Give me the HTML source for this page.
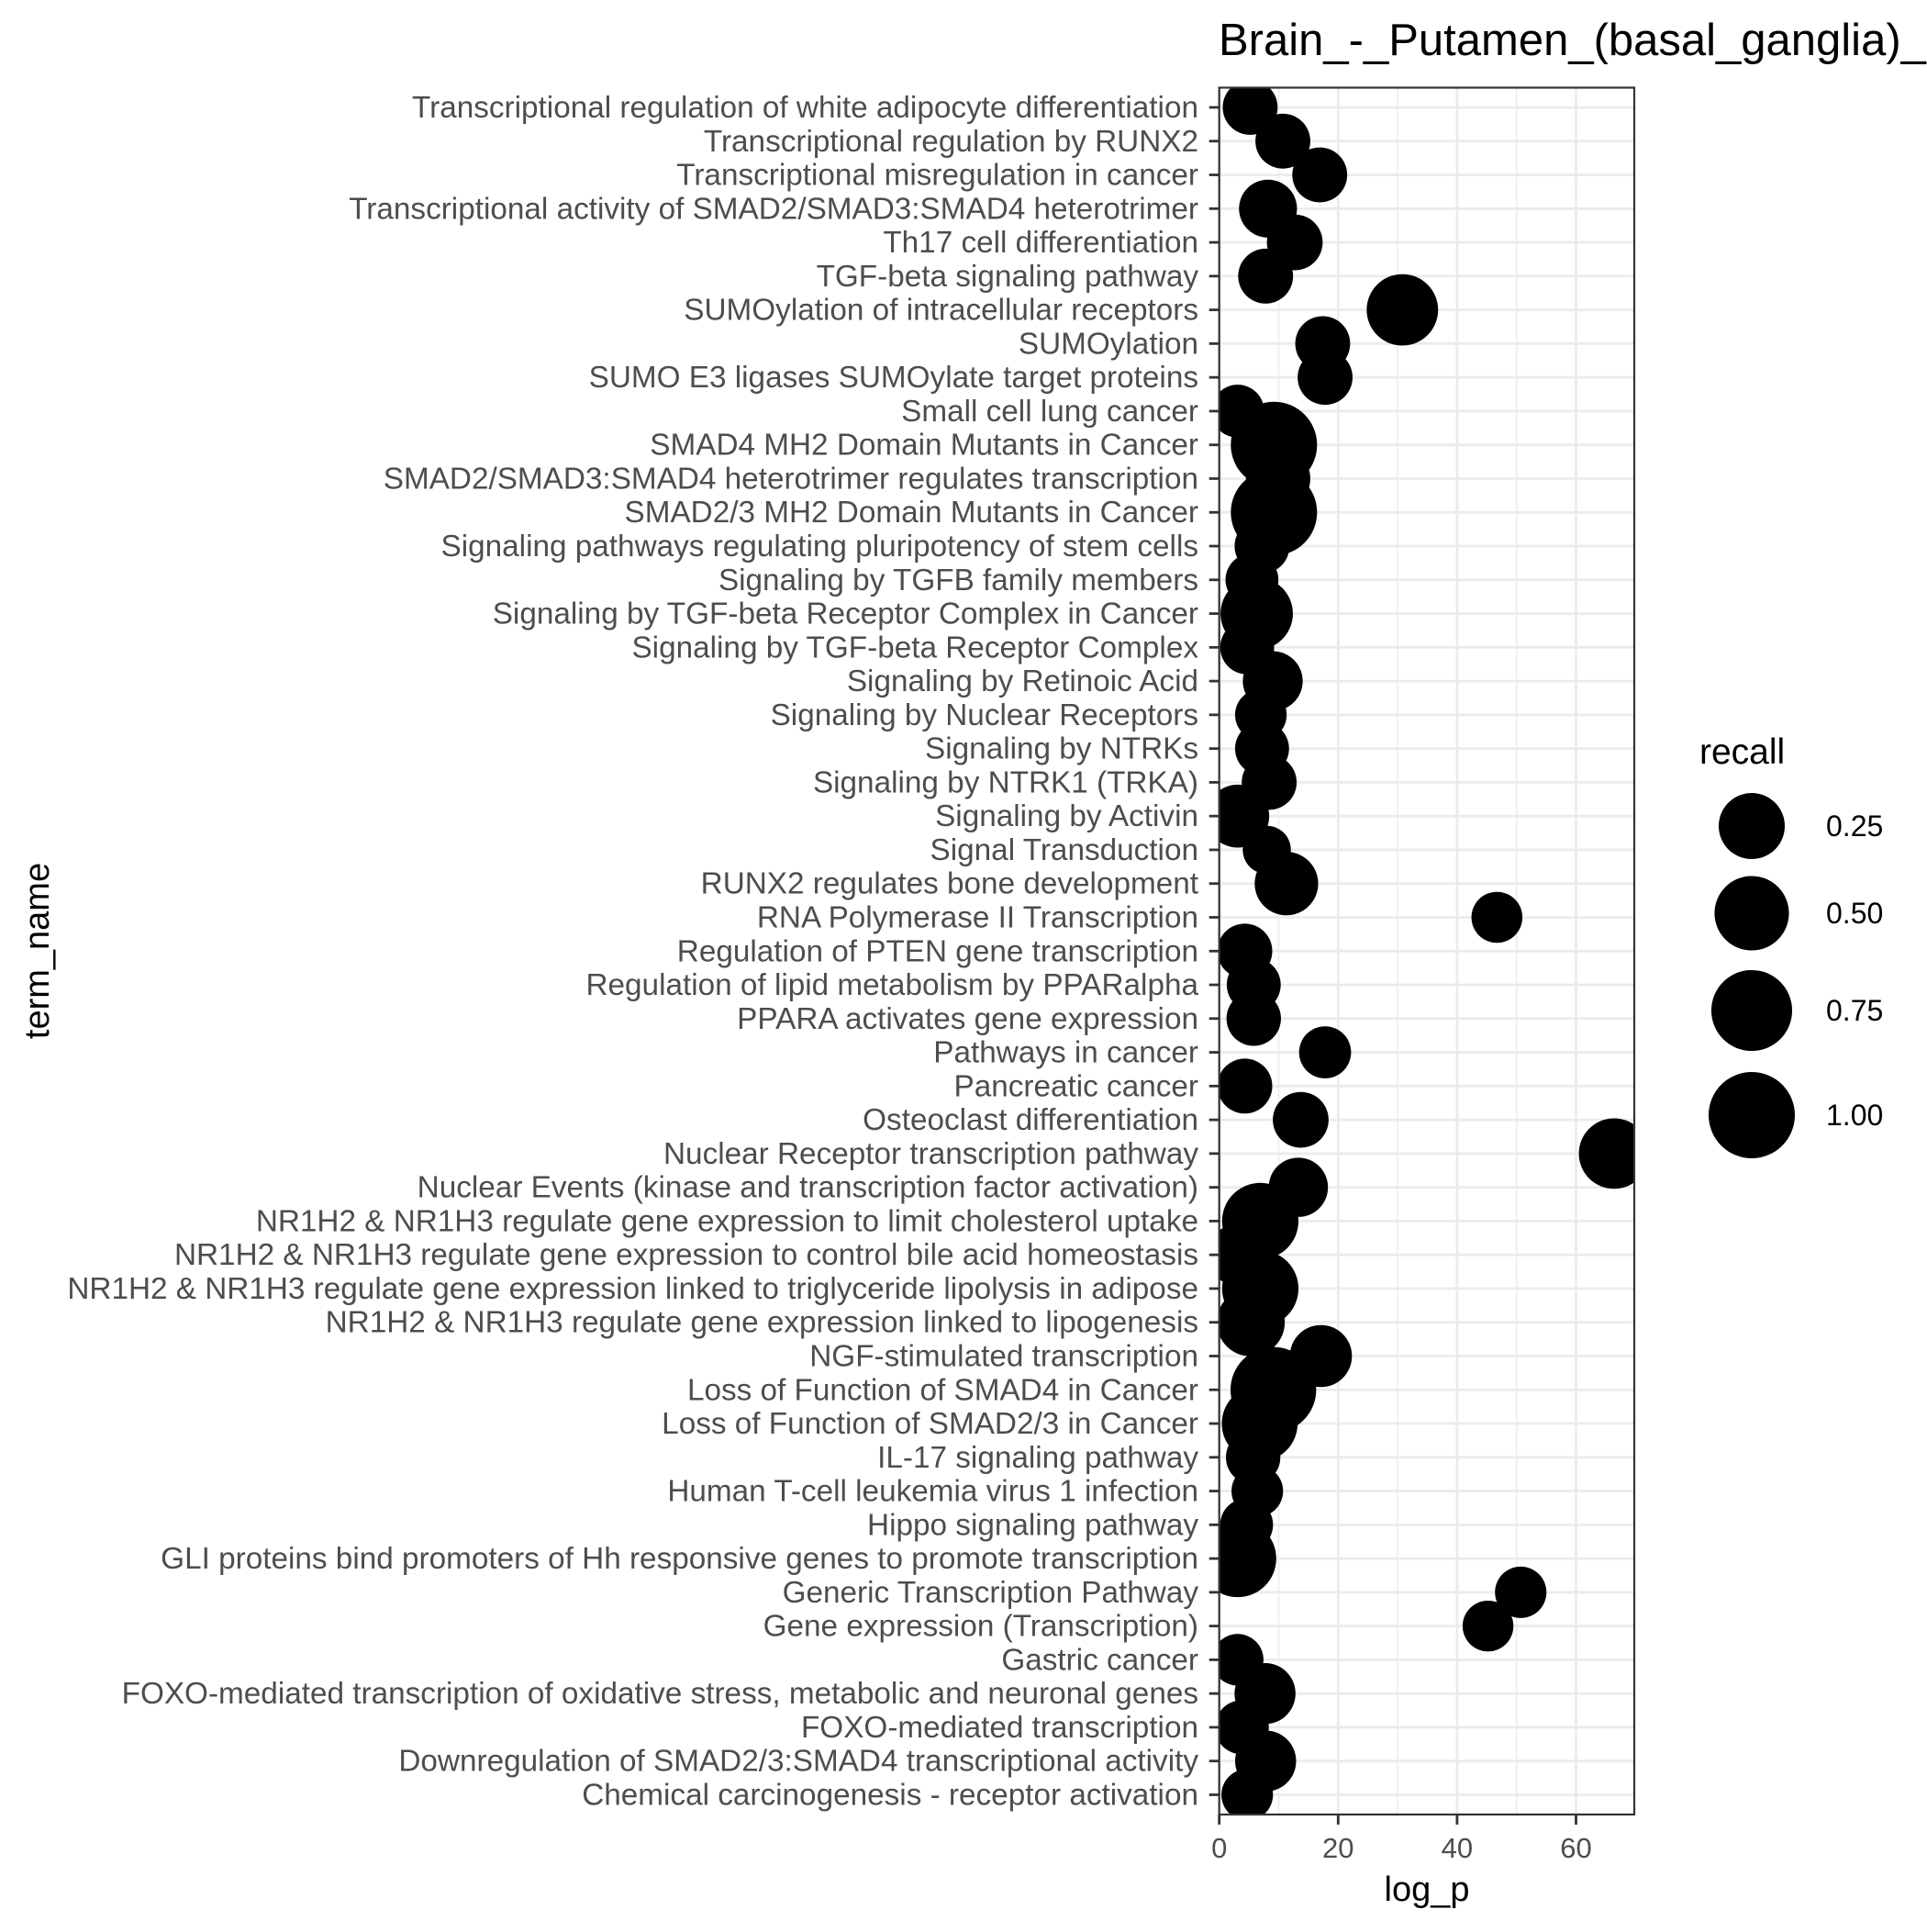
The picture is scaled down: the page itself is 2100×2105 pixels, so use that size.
<!DOCTYPE html>
<html><head><meta charset="utf-8"><style>
html,body{margin:0;padding:0;background:#fff;}
svg text{font-family:"Liberation Sans",Arial,sans-serif;}
</style></head><body>
<svg id="chart" width="2100" height="2100" viewBox="0 0 2100 2100" xmlns="http://www.w3.org/2000/svg">
<rect x="0" y="0" width="2100" height="2100" fill="#fff"/>
<text x="1328" y="60" font-size="49" fill="#000">Brain_-_Putamen_(basal_ganglia)_</text>
<text x="1555" y="2071" font-size="38" fill="#000" text-anchor="middle">log_p</text>
<text transform="translate(53,1036) rotate(-90)" font-size="38" fill="#000" text-anchor="middle">term_name</text>
<g id="grid"></g>
<g id="points"></g>
<g id="axes"></g>
<g id="legend"></g>
</svg>
<script>
const categories = [
"Transcriptional regulation of white adipocyte differentiation",
"Transcriptional regulation by RUNX2",
"Transcriptional misregulation in cancer",
"Transcriptional activity of SMAD2/SMAD3:SMAD4 heterotrimer",
"Th17 cell differentiation",
"TGF-beta signaling pathway",
"SUMOylation of intracellular receptors",
"SUMOylation",
"SUMO E3 ligases SUMOylate target proteins",
"Small cell lung cancer",
"SMAD4 MH2 Domain Mutants in Cancer",
"SMAD2/SMAD3:SMAD4 heterotrimer regulates transcription",
"SMAD2/3 MH2 Domain Mutants in Cancer",
"Signaling pathways regulating pluripotency of stem cells",
"Signaling by TGFB family members",
"Signaling by TGF-beta Receptor Complex in Cancer",
"Signaling by TGF-beta Receptor Complex",
"Signaling by Retinoic Acid",
"Signaling by Nuclear Receptors",
"Signaling by NTRKs",
"Signaling by NTRK1 (TRKA)",
"Signaling by Activin",
"Signal Transduction",
"RUNX2 regulates bone development",
"RNA Polymerase II Transcription",
"Regulation of PTEN gene transcription",
"Regulation of lipid metabolism by PPARalpha",
"PPARA activates gene expression",
"Pathways in cancer",
"Pancreatic cancer",
"Osteoclast differentiation",
"Nuclear Receptor transcription pathway",
"Nuclear Events (kinase and transcription factor activation)",
"NR1H2 & NR1H3 regulate gene expression to limit cholesterol uptake ",
"NR1H2 & NR1H3 regulate gene expression to control bile acid homeostasis",
"NR1H2 & NR1H3 regulate gene expression linked to triglyceride lipolysis in adipose",
"NR1H2 & NR1H3 regulate gene expression linked to lipogenesis",
"NGF-stimulated transcription",
"Loss of Function of SMAD4 in Cancer",
"Loss of Function of SMAD2/3 in Cancer",
"IL-17 signaling pathway",
"Human T-cell leukemia virus 1 infection",
"Hippo signaling pathway",
"GLI proteins bind promoters of Hh responsive genes to promote transcription",
"Generic Transcription Pathway",
"Gene expression (Transcription)",
"Gastric cancer",
"FOXO-mediated transcription of oxidative stress, metabolic and neuronal genes",
"FOXO-mediated transcription",
"Downregulation of SMAD2/3:SMAD4 transcriptional activity",
"Chemical carcinogenesis - receptor activation"
];
const logP = [5.2,10.7,16.9,8.2,12.7,7.8,30.8,17.4,17.8,3.1,9.2,9.9,9.2,7.2,5.5,6.3,4.7,9.0,7.0,7.2,8.4,3.1,8.0,11.3,46.7,4.3,5.8,5.8,17.8,4.3,13.7,66.4,13.3,6.9,3.5,6.9,5.3,17.1,9.1,6.8,5.7,6.4,4.6,3.1,50.7,45.2,3.1,7.7,3.8,7.8,4.7];
const recall = [0.05,0.05,0.05,0.09,0.06,0.05,0.40,0.05,0.05,0.03,1.0,0.21,1.0,0.05,0.03,0.43,0.04,0.12,0.02,0.04,0.05,0.18,0.003,0.19,0.016,0.05,0.04,0.045,0.023,0.05,0.06,0.37,0.11,0.57,0.2,0.57,0.3,0.16,0.97,0.55,0.045,0.02,0.03,0.6,0.019,0.015,0.02,0.14,0.04,0.14,0.02];
const xTicks = [0,20,40,60];
const xMinor = [10,30,50];
const legendBreaks = [0.25,0.5,0.75,1.0];
const legendLabels = ["0.25","0.50","0.75","1.00"];

const NS="http://www.w3.org/2000/svg";
const PL=1328.7, PR=1781, PT=95.5, PB=1977;
const ROW0=117, ROWN=1955.5;
function xScale(v){return PL + v*6.48;}
function yScale(i){return ROW0 + i*(ROWN-ROW0)/(categories.length-1);}
function rScale(v){return 25 + 22*Math.sqrt(Math.max(0,v));}
function mk(tag,attrs,parent){const e=document.createElementNS(NS,tag);for(const k in attrs)e.setAttribute(k,attrs[k]);parent.appendChild(e);return e;}

const svg=document.getElementById('chart');
const defs=mk('defs',{},svg);
const cp=mk('clipPath',{id:'pclip'},defs);
mk('rect',{x:PL,y:PT,width:PR-PL,height:PB-PT},cp);

const grid=document.getElementById('grid');
xMinor.forEach(v=>{
  const l=mk('line',{x1:xScale(v),x2:xScale(v),y1:PT,y2:PB,stroke:'#ebebeb','stroke-width':1.4},grid);
  
  
});
xTicks.forEach(v=>{
  const l=mk('line',{x1:xScale(v),x2:xScale(v),y1:PT,y2:PB,stroke:'#ebebeb','stroke-width':2.8},grid);
  
  
});
categories.forEach((c,i)=>{
  const l=mk('line',{x1:PL,x2:PR,y1:yScale(i),y2:yScale(i),stroke:'#ebebeb','stroke-width':2.8},grid);
  
  
});

const pts=document.getElementById('points');
pts.setAttribute('clip-path','url(#pclip)');
categories.forEach((c,i)=>{
  const ci=mk('circle',{cx:xScale(logP[i]),cy:yScale(i),r:rScale(recall[i]),fill:'#000'},pts);
  
  
});

const axes=document.getElementById('axes');
const border=mk('rect',{x:PL,y:PT,width:PR-PL,height:PB-PT,fill:'none',stroke:'#333','stroke-width':2.2},axes);


categories.forEach((c,i)=>{
  const y=yScale(i);
  const t=mk('line',{x1:PL-11,x2:PL,y1:y,y2:y,stroke:'#333','stroke-width':2.8},axes);
  
  
  const tx=mk('text',{x:1306,y:y+11,'font-size':33.3,fill:'#4d4d4d','text-anchor':'end'},axes);
  tx.textContent=c;
  
  
});
xTicks.forEach(v=>{
  const x=xScale(v);
  const t=mk('line',{x1:x,x2:x,y1:PB,y2:PB+11,stroke:'#333','stroke-width':2.8},axes);
  
  
  const tx=mk('text',{x:x,y:2024,'font-size':31,fill:'#4d4d4d','text-anchor':'middle'},axes);
  tx.textContent=String(v);
  
  
});

const lg=document.getElementById('legend');
const lt=mk('text',{x:1852,y:832,'font-size':39,fill:'#000'},lg);
lt.textContent='recall';


const legY=[900,995,1101,1215];
legendBreaks.forEach((b,i)=>{
  const c=mk('circle',{cx:1909,cy:legY[i],r:rScale(b),fill:'#000'},lg);
  
  
  const t=mk('text',{x:1990,y:legY[i]+11,'font-size':32,fill:'#000'},lg);
  t.textContent=legendLabels[i];
  
  
});
</script>
</body></html>
